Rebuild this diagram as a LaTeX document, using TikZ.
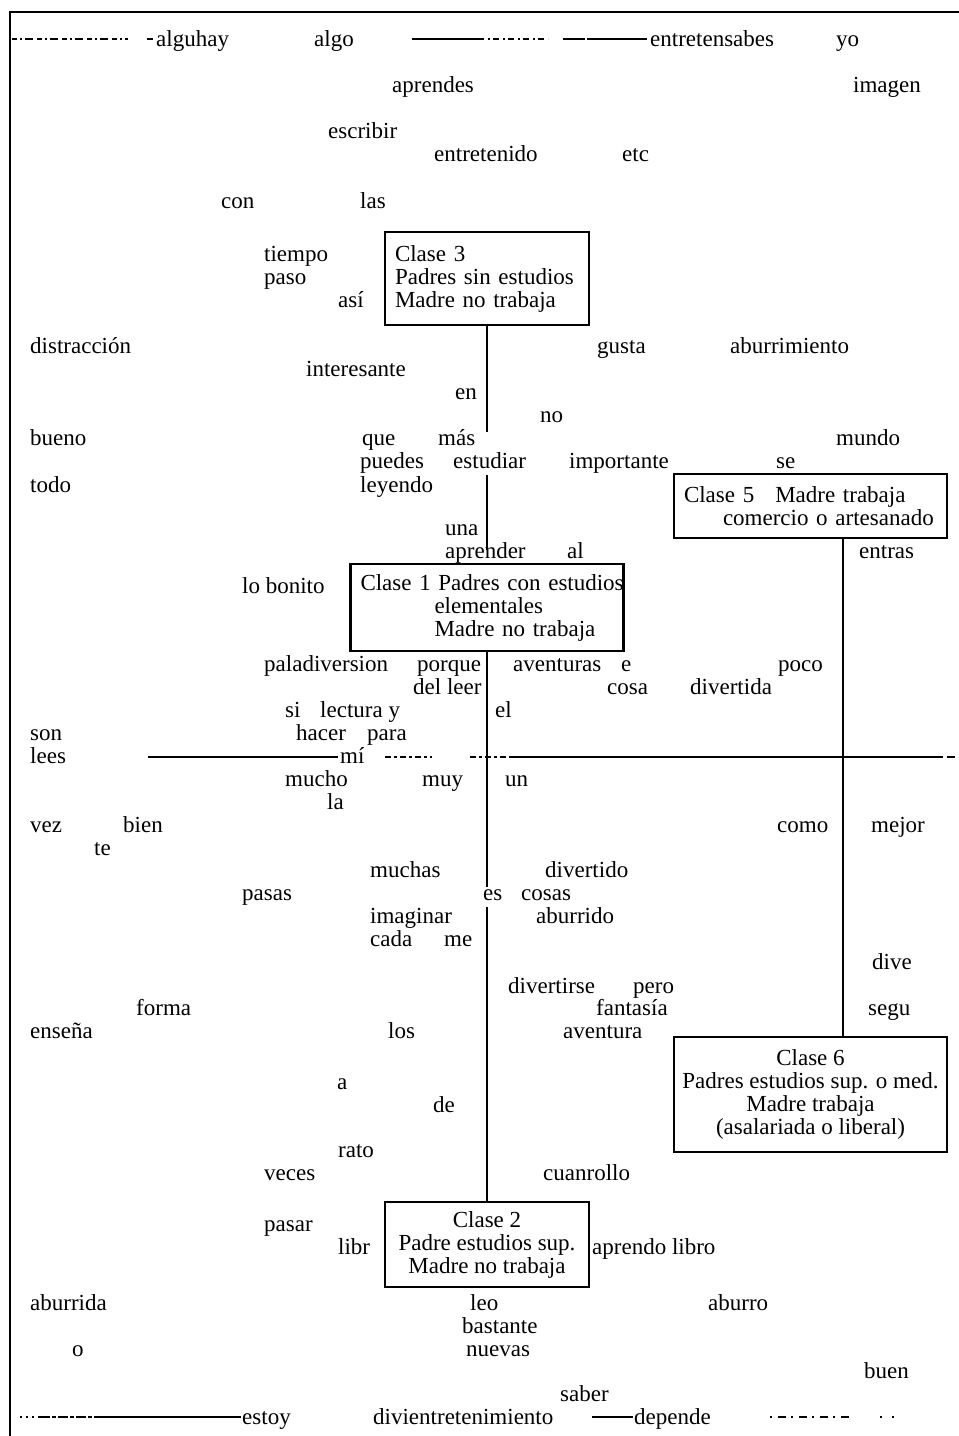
\documentclass[tikz,border=0pt]{standalone}
\usepackage{fontspec}
\setmainfont{Liberation Serif}
\newcommand\wf{\fontsize{23}{23}\selectfont}
\begin{document}
\begin{tikzpicture}[x=1pt,y=-1pt,
  w/.style={anchor=base west, inner sep=0pt, font=\wf},
  boxnode/.style={draw, line width=2.3pt, inner sep=0pt, font=\wf},
  conn/.style={line width=2.2pt},
  axisline/.style={line width=1.3pt},
  frameline/.style={line width=2.6pt}]
\useasboundingbox (0,0) rectangle (959,1436);
% frame
\draw[frameline] (10,1436) -- (10,12) -- (959,12);
% boxes
\node[boxnode, minimum width=204pt, minimum height=93pt, text width=184pt, align=left] (c3) at (487,278.5)
  {Clase 3\\Padres sin estudios\\Madre no trabaja};
\node[boxnode, minimum width=273pt, minimum height=64pt, text width=253pt, align=left] (c5) at (810.5,506)
  {\mbox{Clase 5\hspace{21pt}Madre trabaja}\\\mbox{\hspace*{39pt}comercio o artesanado}};
\node[boxnode, minimum width=273pt, minimum height=87pt, text width=253pt, align=left] (c1) at (487,607.5)
  {\mbox{Clase 1 Padres con estudios}\\\mbox{\hspace*{74pt}elementales}\\\mbox{\hspace*{74pt}Madre no trabaja}};
\node[boxnode, minimum width=273pt, minimum height=115pt, align=center] (c6) at (810.5,1094.5)
  {Clase 6\\Padres estudios sup. o med.\\Madre trabaja\\(asalariada o liberal)};
\node[boxnode, minimum width=204pt, minimum height=85pt, align=center] (c2) at (487,1244.5)
  {Clase 2\\Padre estudios sup.\\Madre no trabaja};
% connector coordinates
\coordinate (v1a) at (487,432);
\coordinate (v1b) at (487,475);
\coordinate (v1c) at (487,550);
\coordinate (v1d) at (487,887);
\coordinate (v1e) at (487,907);
\coordinate (v2) at (843,0);
\draw[conn] (c3.south) -- (v1a);
\draw[conn] (v1b) -- (v1c);
\draw[conn] (c1.south) -- (v1d);
\draw[conn] (v1e) -- (c2.north);
\draw[conn] (c5.south -| v2) -- (c6.north -| v2);
% top axis
\coordinate (t0) at (12,39); \coordinate (t1) at (128,39);
\coordinate (t2) at (147,39); \coordinate (t3) at (153,39);
\coordinate (t4) at (412,39); \coordinate (t5) at (478,39);
\coordinate (t6) at (548,39); \coordinate (t7) at (563,39);
\coordinate (t8) at (647,39);
\draw[axisline, dash pattern=on 5pt off 3pt on 2pt off 3pt on 8pt off 4pt] (t0) -- (t1);
\draw[axisline] (t2) -- (t3);
\draw[axisline] (t4) -- (t5);
\draw[axisline, dash pattern=on 6pt off 4pt on 2pt off 3pt] (t5) -- (t6);
\draw[axisline, dash pattern=on 22pt off 2pt on 60pt off 2pt] (t7) -- (t8);
% middle axis
\coordinate (m0) at (148,757); \coordinate (m1) at (338,757);
\coordinate (m2) at (385,757); \coordinate (m3) at (432,757);
\coordinate (m4) at (470,757); \coordinate (m5) at (512,757);
\coordinate (m6) at (935,757); \coordinate (m7) at (959,757);
\draw[axisline] (m0) -- (m1);
\draw[axisline, dash pattern=on 6pt off 3pt on 3pt off 3pt] (m2) -- (m3);
\draw[axisline, dash pattern=on 6pt off 3pt on 3pt off 3pt] (m4) -- (m5);
\draw[axisline] (m5) -- (m6);
\draw[axisline, dash pattern=on 8pt off 4pt] (m6) -- (m7);
% bottom axis
\coordinate (b0) at (20,1417); \coordinate (b1) at (40,1417);
\coordinate (b2) at (100,1417); \coordinate (b3) at (241,1417);
\coordinate (b4) at (592,1417); \coordinate (b5) at (633,1417);
\coordinate (b6) at (770,1417); \coordinate (b7) at (850,1417);
\coordinate (b8) at (880,1417); \coordinate (b9) at (900,1417);
\draw[axisline, dash pattern=on 2pt off 4pt] (b0) -- (b1);
\draw[axisline, dash pattern=on 10pt off 2pt on 4pt off 2pt] (b1) -- (b2);
\draw[axisline] (b2) -- (b3);
\draw[axisline] (b4) -- (b5);
\draw[axisline, dash pattern=on 2pt off 6pt on 8pt off 5pt] (b6) -- (b7);
\draw[axisline, dash pattern=on 2pt off 10pt] (b8) -- (b9);
% words
\node[w] (n1) at (156,46) {alguhay};
\node[w] (n2) at (314,46) {algo};
\node[w] (n3) at (650,46) {entretensabes};
\node[w] (n4) at (836,46) {yo};
\node[w] (n5) at (392,92) {aprendes};
\node[w] (n6) at (853,92) {imagen};
\node[w] (n7) at (328,138) {escribir};
\node[w] (n8) at (434,161) {entretenido};
\node[w] (n9) at (622,161) {etc};
\node[w] (n10) at (221,208) {con};
\node[w] (n11) at (360,208) {las};
\node[w] (n12) at (264,261) {tiempo};
\node[w] (n13) at (264,284) {paso};
\node[w] (n14) at (338,307) {así};
\node[w] (n15) at (30,353) {distracción};
\node[w] (n16) at (597,353) {gusta};
\node[w] (n17) at (730,353) {aburrimiento};
\node[w] (n18) at (306,376) {interesante};
\node[w] (n19) at (455,399) {en};
\node[w] (n20) at (540,422) {no};
\node[w] (n21) at (30,445) {bueno};
\node[w] (n22) at (362,445) {que};
\node[w] (n23) at (438,445) {más};
\node[w] (n24) at (836,445) {mundo};
\node[w] (n25) at (360,468) {puedes};
\node[w] (n26) at (453,468) {estudiar};
\node[w] (n27) at (569,468) {importante};
\node[w] (n28) at (776,468) {se};
\node[w] (n29) at (30,492) {todo};
\node[w] (n30) at (360,492) {leyendo};
\node[w] (n31) at (445,535) {una};
\node[w] (n32) at (445,558) {aprender};
\node[w] (n33) at (567,558) {al};
\node[w] (n34) at (859,558) {entras};
\node[w] (n35) at (242,593) {lo bonito};
\node[w] (n36) at (264,671) {paladiversion};
\node[w] (n37) at (417,671) {porque};
\node[w] (n38) at (513,671) {aventuras};
\node[w] (n39) at (621,671) {e};
\node[w] (n40) at (778,671) {poco};
\node[w] (n41) at (413,694) {del leer};
\node[w] (n42) at (607,694) {cosa};
\node[w] (n43) at (690,694) {divertida};
\node[w] (n44) at (285,717) {si};
\node[w] (n45) at (320,717) {lectura y};
\node[w] (n46) at (495,717) {el};
\node[w] (n47) at (30,740) {son};
\node[w] (n48) at (296,740) {hacer};
\node[w] (n49) at (367,740) {para};
\node[w] (n50) at (30,763) {lees};
\node[w] (n51) at (340,763) {mí};
\node[w] (n52) at (285,786) {mucho};
\node[w] (n53) at (422,786) {muy};
\node[w] (n54) at (505,786) {un};
\node[w] (n55) at (327,809) {la};
\node[w] (n56) at (30,832) {vez};
\node[w] (n57) at (123,832) {bien};
\node[w] (n58) at (777,832) {como};
\node[w] (n59) at (871,832) {mejor};
\node[w] (n60) at (94,855) {te};
\node[w] (n61) at (370,877) {muchas};
\node[w] (n62) at (545,877) {divertido};
\node[w] (n63) at (242,900) {pasas};
\node[w] (n64) at (483,900) {es};
\node[w] (n65) at (521,900) {cosas};
\node[w] (n66) at (370,923) {imaginar};
\node[w] (n67) at (536,923) {aburrido};
\node[w] (n68) at (370,946) {cada};
\node[w] (n69) at (444,946) {me};
\node[w] (n70) at (872,969) {dive};
\node[w] (n71) at (508,993) {divertirse};
\node[w] (n72) at (633,993) {pero};
\node[w] (n73) at (136,1015) {forma};
\node[w] (n74) at (596,1015) {fantasía};
\node[w] (n75) at (868,1015) {segu};
\node[w] (n76) at (30,1038) {enseña};
\node[w] (n77) at (388,1038) {los};
\node[w] (n78) at (563,1038) {aventura};
\node[w] (n79) at (337,1089) {a};
\node[w] (n80) at (433,1112) {de};
\node[w] (n81) at (338,1157) {rato};
\node[w] (n82) at (264,1180) {veces};
\node[w] (n83) at (543,1180) {cuanrollo};
\node[w] (n84) at (264,1231) {pasar};
\node[w] (n85) at (338,1254) {libr};
\node[w] (n86) at (592,1254) {aprendo libro};
\node[w] (n87) at (30,1310) {aburrida};
\node[w] (n88) at (470,1310) {leo};
\node[w] (n89) at (708,1310) {aburro};
\node[w] (n90) at (462,1333) {bastante};
\node[w] (n91) at (72,1356) {o};
\node[w] (n92) at (466,1356) {nuevas};
\node[w] (n93) at (864,1378) {buen};
\node[w] (n94) at (560,1401) {saber};
\node[w] (n95) at (242,1424) {estoy};
\node[w] (n96) at (373,1424) {divientretenimiento};
\node[w] (n97) at (634,1424) {depende};
\end{tikzpicture}
\end{document}
